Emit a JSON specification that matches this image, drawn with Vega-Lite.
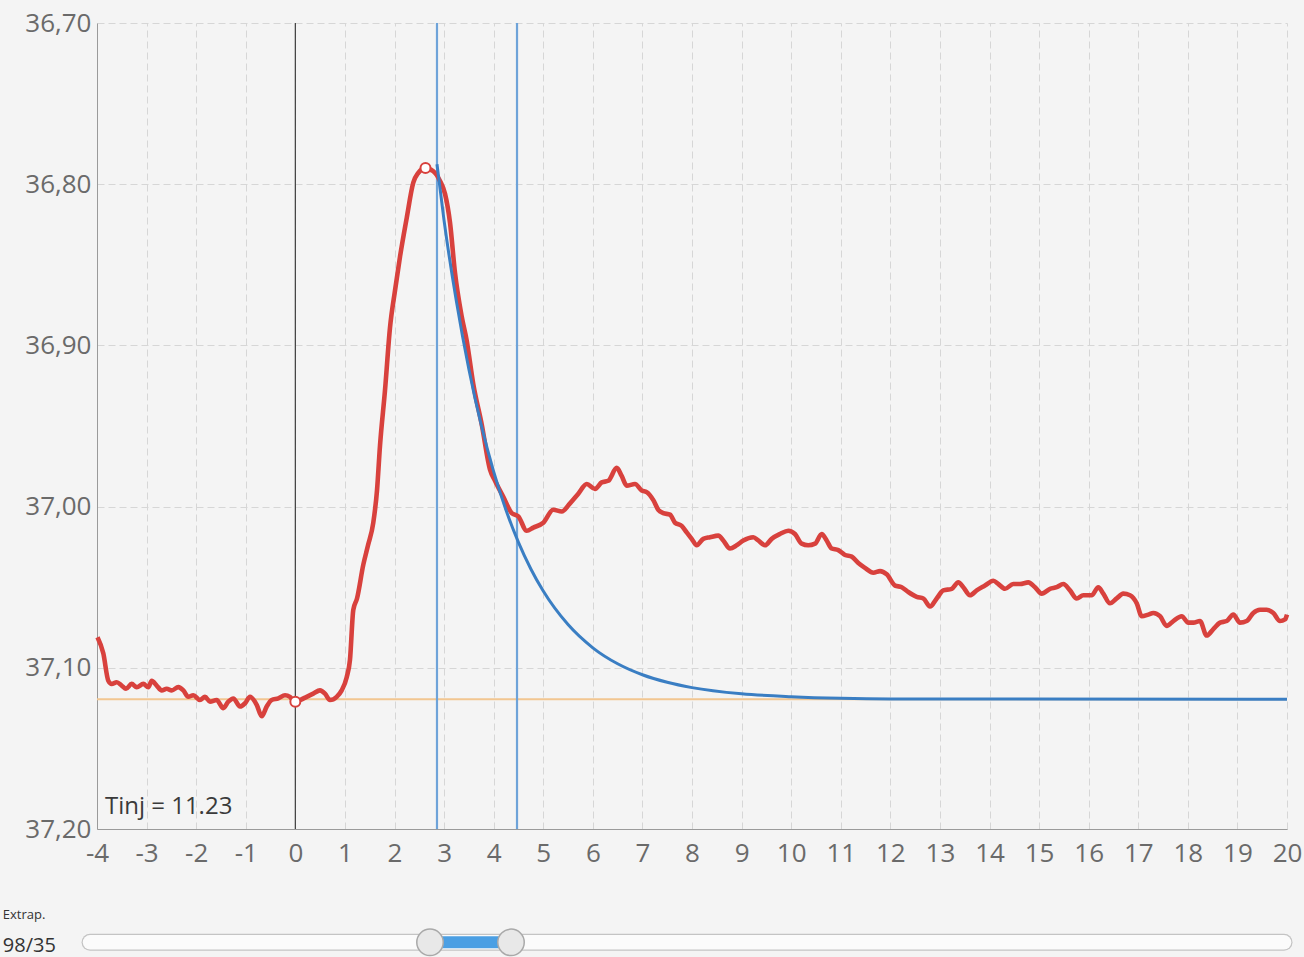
{
  "$schema": "https://vega.github.io/schema/vega-lite/v6.json",
  "autosize": {"type": "none"},
  "padding": {"left": 97, "top": 23, "right": 17, "bottom": 128},
  "width": 1190,
  "height": 806,
  "background": "#f4f4f4",
  "config": {
    "view": {"stroke": null, "fill": "#f4f4f4"},
    "font": "Open Sans",
    "axis": {
      "labelFont": "Open Sans",
      "labelFontSize": 26,
      "labelColor": "#6a6a6a",
      "domainColor": "#9a9a9a",
      "domainWidth": 1,
      "ticks": false,
      "gridColor": "#d6d6d6",
      "gridDash": [7, 4],
      "gridWidth": 1
    }
  },
  "datasets": {
    "red": [
      {"t": -3.99, "temp": 37.081}, {"t": -3.873, "temp": 37.091}, {"t": -3.772, "temp": 37.108},
      {"t": -3.704, "temp": 37.11}, {"t": -3.603, "temp": 37.109}, {"t": -3.502, "temp": 37.111},
      {"t": -3.415, "temp": 37.113}, {"t": -3.3, "temp": 37.11}, {"t": -3.199, "temp": 37.112},
      {"t": -3.066, "temp": 37.11}, {"t": -2.965, "temp": 37.112}, {"t": -2.897, "temp": 37.108},
      {"t": -2.796, "temp": 37.111}, {"t": -2.695, "temp": 37.114}, {"t": -2.594, "temp": 37.113},
      {"t": -2.493, "temp": 37.114}, {"t": -2.36, "temp": 37.112}, {"t": -2.259, "temp": 37.114},
      {"t": -2.159, "temp": 37.118}, {"t": -2.058, "temp": 37.117}, {"t": -1.923, "temp": 37.12},
      {"t": -1.822, "temp": 37.118}, {"t": -1.721, "temp": 37.121}, {"t": -1.586, "temp": 37.12},
      {"t": -1.453, "temp": 37.125}, {"t": -1.352, "temp": 37.121}, {"t": -1.251, "temp": 37.119},
      {"t": -1.116, "temp": 37.124}, {"t": -1.015, "temp": 37.122}, {"t": -0.914, "temp": 37.118},
      {"t": -0.779, "temp": 37.123}, {"t": -0.678, "temp": 37.13}, {"t": -0.577, "temp": 37.124},
      {"t": -0.477, "temp": 37.12}, {"t": -0.343, "temp": 37.119}, {"t": -0.208, "temp": 37.117},
      {"t": -0.108, "temp": 37.118}, {"t": -0.027, "temp": 37.121}, {"t": 0.094, "temp": 37.12},
      {"t": 0.229, "temp": 37.118}, {"t": 0.362, "temp": 37.116}, {"t": 0.497, "temp": 37.114},
      {"t": 0.598, "temp": 37.116}, {"t": 0.699, "temp": 37.12}, {"t": 0.834, "temp": 37.118},
      {"t": 0.935, "temp": 37.114}, {"t": 1.035, "temp": 37.106}, {"t": 1.102, "temp": 37.095},
      {"t": 1.169, "temp": 37.064}, {"t": 1.244, "temp": 37.057}, {"t": 1.371, "temp": 37.036},
      {"t": 1.466, "temp": 37.024}, {"t": 1.572, "temp": 37.01}, {"t": 1.647, "temp": 36.99},
      {"t": 1.708, "temp": 36.962}, {"t": 1.808, "temp": 36.928}, {"t": 1.909, "temp": 36.889},
      {"t": 2.01, "temp": 36.866}, {"t": 2.111, "temp": 36.845}, {"t": 2.246, "temp": 36.821},
      {"t": 2.379, "temp": 36.799}, {"t": 2.48, "temp": 36.793}, {"t": 2.615, "temp": 36.79},
      {"t": 2.783, "temp": 36.792}, {"t": 2.918, "temp": 36.798}, {"t": 3.019, "temp": 36.806},
      {"t": 3.12, "temp": 36.824}, {"t": 3.22, "temp": 36.855}, {"t": 3.355, "temp": 36.882},
      {"t": 3.456, "temp": 36.897}, {"t": 3.589, "temp": 36.924}, {"t": 3.759, "temp": 36.949},
      {"t": 3.926, "temp": 36.977}, {"t": 4.027, "temp": 36.984}, {"t": 4.194, "temp": 36.994},
      {"t": 4.364, "temp": 37.004}, {"t": 4.497, "temp": 37.006}, {"t": 4.666, "temp": 37.015},
      {"t": 4.8, "temp": 37.013}, {"t": 5.001, "temp": 37.01}, {"t": 5.203, "temp": 37.002},
      {"t": 5.372, "temp": 37.003}, {"t": 5.54, "temp": 36.998}, {"t": 5.707, "temp": 36.992},
      {"t": 5.877, "temp": 36.986}, {"t": 6.044, "temp": 36.989}, {"t": 6.179, "temp": 36.985},
      {"t": 6.312, "temp": 36.984}, {"t": 6.481, "temp": 36.976}, {"t": 6.582, "temp": 36.981},
      {"t": 6.683, "temp": 36.987}, {"t": 6.85, "temp": 36.986}, {"t": 6.986, "temp": 36.99},
      {"t": 7.086, "temp": 36.991}, {"t": 7.22, "temp": 36.996}, {"t": 7.32, "temp": 37.002},
      {"t": 7.421, "temp": 37.004}, {"t": 7.556, "temp": 37.005}, {"t": 7.657, "temp": 37.01},
      {"t": 7.792, "temp": 37.012}, {"t": 7.893, "temp": 37.016}, {"t": 7.994, "temp": 37.02},
      {"t": 8.095, "temp": 37.024}, {"t": 8.228, "temp": 37.02}, {"t": 8.363, "temp": 37.019},
      {"t": 8.531, "temp": 37.018}, {"t": 8.631, "temp": 37.021}, {"t": 8.766, "temp": 37.026},
      {"t": 8.901, "temp": 37.024}, {"t": 9.035, "temp": 37.021}, {"t": 9.236, "temp": 37.019},
      {"t": 9.337, "temp": 37.021}, {"t": 9.472, "temp": 37.024}, {"t": 9.607, "temp": 37.02},
      {"t": 9.774, "temp": 37.017}, {"t": 9.942, "temp": 37.015}, {"t": 10.077, "temp": 37.017},
      {"t": 10.212, "temp": 37.023}, {"t": 10.345, "temp": 37.024}, {"t": 10.481, "temp": 37.023},
      {"t": 10.616, "temp": 37.017}, {"t": 10.716, "temp": 37.021}, {"t": 10.817, "temp": 37.026},
      {"t": 10.95, "temp": 37.027}, {"t": 11.086, "temp": 37.03}, {"t": 11.221, "temp": 37.031},
      {"t": 11.354, "temp": 37.035}, {"t": 11.489, "temp": 37.038}, {"t": 11.657, "temp": 37.041},
      {"t": 11.792, "temp": 37.04}, {"t": 11.927, "temp": 37.042}, {"t": 12.095, "temp": 37.049},
      {"t": 12.23, "temp": 37.05}, {"t": 12.363, "temp": 37.053}, {"t": 12.532, "temp": 37.056},
      {"t": 12.665, "temp": 37.057}, {"t": 12.8, "temp": 37.062}, {"t": 12.935, "temp": 37.057},
      {"t": 13.068, "temp": 37.052}, {"t": 13.238, "temp": 37.051}, {"t": 13.371, "temp": 37.047},
      {"t": 13.472, "temp": 37.05}, {"t": 13.607, "temp": 37.055}, {"t": 13.742, "temp": 37.052},
      {"t": 13.909, "temp": 37.049}, {"t": 14.077, "temp": 37.046}, {"t": 14.178, "temp": 37.048},
      {"t": 14.313, "temp": 37.051}, {"t": 14.48, "temp": 37.048}, {"t": 14.615, "temp": 37.048},
      {"t": 14.783, "temp": 37.047}, {"t": 14.918, "temp": 37.05}, {"t": 15.053, "temp": 37.054},
      {"t": 15.22, "temp": 37.051}, {"t": 15.355, "temp": 37.05}, {"t": 15.488, "temp": 37.048},
      {"t": 15.624, "temp": 37.052}, {"t": 15.759, "temp": 37.057}, {"t": 15.892, "temp": 37.055},
      {"t": 16.061, "temp": 37.055}, {"t": 16.194, "temp": 37.05}, {"t": 16.295, "temp": 37.054},
      {"t": 16.43, "temp": 37.06}, {"t": 16.565, "temp": 37.057}, {"t": 16.698, "temp": 37.054},
      {"t": 16.834, "temp": 37.055}, {"t": 16.969, "temp": 37.06}, {"t": 17.07, "temp": 37.068},
      {"t": 17.203, "temp": 37.067}, {"t": 17.304, "temp": 37.066}, {"t": 17.439, "temp": 37.068},
      {"t": 17.574, "temp": 37.074}, {"t": 17.707, "temp": 37.071}, {"t": 17.877, "temp": 37.068},
      {"t": 18.01, "temp": 37.072}, {"t": 18.111, "temp": 37.072}, {"t": 18.245, "temp": 37.071},
      {"t": 18.38, "temp": 37.08}, {"t": 18.514, "temp": 37.076}, {"t": 18.649, "temp": 37.072},
      {"t": 18.784, "temp": 37.071}, {"t": 18.917, "temp": 37.067}, {"t": 19.052, "temp": 37.072},
      {"t": 19.187, "temp": 37.071}, {"t": 19.32, "temp": 37.066}, {"t": 19.455, "temp": 37.064},
      {"t": 19.59, "temp": 37.064}, {"t": 19.724, "temp": 37.066}, {"t": 19.859, "temp": 37.071},
      {"t": 19.96, "temp": 37.07}, {"t": 20.0, "temp": 37.067}
    ],
    "fit": [
      {"t": 2.857, "temp": 36.7876}, {"t": 3.0, "temp": 36.8226}, {"t": 3.25, "temp": 36.873},
      {"t": 3.5, "temp": 36.9148}, {"t": 3.75, "temp": 36.9495}, {"t": 4.0, "temp": 36.9783},
      {"t": 4.25, "temp": 37.0023}, {"t": 4.5, "temp": 37.0222}, {"t": 4.75, "temp": 37.0387},
      {"t": 5.0, "temp": 37.0524}, {"t": 5.5, "temp": 37.0732}, {"t": 6.0, "temp": 37.0876},
      {"t": 6.5, "temp": 37.0975}, {"t": 7.0, "temp": 37.1043}, {"t": 7.5, "temp": 37.109},
      {"t": 8.0, "temp": 37.1123}, {"t": 9.0, "temp": 37.1161}, {"t": 10.0, "temp": 37.1179},
      {"t": 11.0, "temp": 37.1189}, {"t": 12.0, "temp": 37.1193}, {"t": 20.0, "temp": 37.1195}
    ]
  },
  "layer": [
    {
      "data": {"values": [{"temp": 37.1195}]},
      "mark": {"type": "rule", "color": "#f2c691", "strokeWidth": 2},
      "encoding": {
        "y": {"field": "temp", "type": "quantitative", "title": null,
          "scale": {"domain": [36.7, 37.2], "reverse": true, "nice": false, "zero": false},
          "axis": {"values": [36.7, 36.8, 36.9, 37.0, 37.1, 37.2], "labelExpr": "replace(format(datum.value, '.2f'), '.', ',')", "labelPadding": 6, "grid": true}
        }
      }
    },
    {
      "data": {"values": [{"t": -4}, {"t": 20}]},
      "mark": {"type": "point", "opacity": 0},
      "encoding": {
        "x": {"field": "t", "type": "quantitative", "title": null,
          "scale": {"domain": [-4, 20], "nice": false, "zero": false},
          "axis": {"values": [-4, -3, -2, -1, 0, 1, 2, 3, 4, 5, 6, 7, 8, 9, 10, 11, 12, 13, 14, 15, 16, 17, 18, 19, 20], "labelExpr": "toString(datum.value)", "labelPadding": 11, "grid": true, "labelFlush": false, "labelOverlap": false}
        }
      }
    },
    {
      "data": {"values": [{"t": 0}]},
      "mark": {"type": "rule", "color": "#3c3c3c", "strokeWidth": 1.2},
      "encoding": {"x": {"field": "t", "type": "quantitative", "title": null}}
    },
    {
      "data": {"values": [{"t": 2.857}, {"t": 4.471}]},
      "mark": {"type": "rule", "color": "#6ea3d9", "strokeWidth": 2.2},
      "encoding": {"x": {"field": "t", "type": "quantitative", "title": null}}
    },
    {
      "data": {"name": "red"},
      "mark": {"type": "line", "color": "#d8413d", "strokeWidth": 4.6, "interpolate": "monotone", "strokeJoin": "round"},
      "encoding": {
        "x": {"field": "t", "type": "quantitative", "title": null},
        "y": {"field": "temp", "type": "quantitative", "title": null}
      }
    },
    {
      "data": {"name": "fit"},
      "mark": {"type": "line", "color": "#3a7ec3", "strokeWidth": 3, "interpolate": "monotone"},
      "encoding": {
        "x": {"field": "t", "type": "quantitative", "title": null},
        "y": {"field": "temp", "type": "quantitative", "title": null}
      }
    },
    {
      "data": {"values": [{"t": 2.625, "temp": 36.79}, {"t": 0.0, "temp": 37.121}]},
      "mark": {"type": "point", "shape": "circle", "filled": true, "fill": "#ffffff", "stroke": "#d8413d", "strokeWidth": 2, "size": 100, "opacity": 1},
      "encoding": {
        "x": {"field": "t", "type": "quantitative", "title": null},
        "y": {"field": "temp", "type": "quantitative", "title": null}
      }
    },
    {
      "data": {"values": [{"t": -3.84, "temp": 37.191, "label": "Tinj = 11.23"}]},
      "mark": {"type": "text", "align": "left", "baseline": "alphabetic", "fontSize": 24, "font": "Open Sans", "color": "#3a3a3a"},
      "encoding": {
        "x": {"field": "t", "type": "quantitative", "title": null},
        "y": {"field": "temp", "type": "quantitative", "title": null},
        "text": {"field": "label"}
      }
    },
    {
      "data": {"values": [{"t": -4.14, "t2": 19.94, "temp": 37.2703}]},
      "mark": {"type": "rule", "color": "#c4c4c4", "strokeWidth": 17, "strokeCap": "round", "clip": false},
      "encoding": {
        "x": {"field": "t", "type": "quantitative", "title": null},
        "x2": {"field": "t2"},
        "y": {"field": "temp", "type": "quantitative", "title": null}
      }
    },
    {
      "data": {"values": [{"t": -4.14, "t2": 19.94, "temp": 37.2703}]},
      "mark": {"type": "rule", "color": "#fbfbfb", "strokeWidth": 14.5, "strokeCap": "round", "clip": false},
      "encoding": {
        "x": {"field": "t", "type": "quantitative", "title": null},
        "x2": {"field": "t2"},
        "y": {"field": "temp", "type": "quantitative", "title": null}
      }
    },
    {
      "data": {"values": [{"t": 2.716, "t2": 4.35, "temp": 37.2703}]},
      "mark": {"type": "rule", "color": "#4b9fe3", "strokeWidth": 12, "clip": false},
      "encoding": {
        "x": {"field": "t", "type": "quantitative", "title": null},
        "x2": {"field": "t2"},
        "y": {"field": "temp", "type": "quantitative", "title": null}
      }
    },
    {
      "data": {"values": [{"t": 2.716, "temp": 37.2703}, {"t": 4.35, "temp": 37.2703}]},
      "mark": {"type": "point", "shape": "circle", "filled": true, "fill": "#e8e8e8", "stroke": "#a9a9a9", "strokeWidth": 1.5, "size": 700, "opacity": 1, "clip": false},
      "encoding": {
        "x": {"field": "t", "type": "quantitative", "title": null},
        "y": {"field": "temp", "type": "quantitative", "title": null}
      }
    },
    {
      "data": {"values": [{"t": -5.9, "temp": 37.2535, "label": "Extrap."}]},
      "mark": {"type": "text", "align": "left", "baseline": "middle", "font": "Open Sans", "fontSize": 13, "color": "#333333", "clip": false},
      "encoding": {
        "x": {"field": "t", "type": "quantitative", "title": null},
        "y": {"field": "temp", "type": "quantitative", "title": null},
        "text": {"field": "label"}
      }
    },
    {
      "data": {"values": [{"t": -5.9, "temp": 37.2725, "label": "98/35"}]},
      "mark": {"type": "text", "align": "left", "baseline": "middle", "font": "Open Sans", "fontSize": 20, "color": "#333333", "clip": false},
      "encoding": {
        "x": {"field": "t", "type": "quantitative", "title": null},
        "y": {"field": "temp", "type": "quantitative", "title": null},
        "text": {"field": "label"}
      }
    }
  ]
}
